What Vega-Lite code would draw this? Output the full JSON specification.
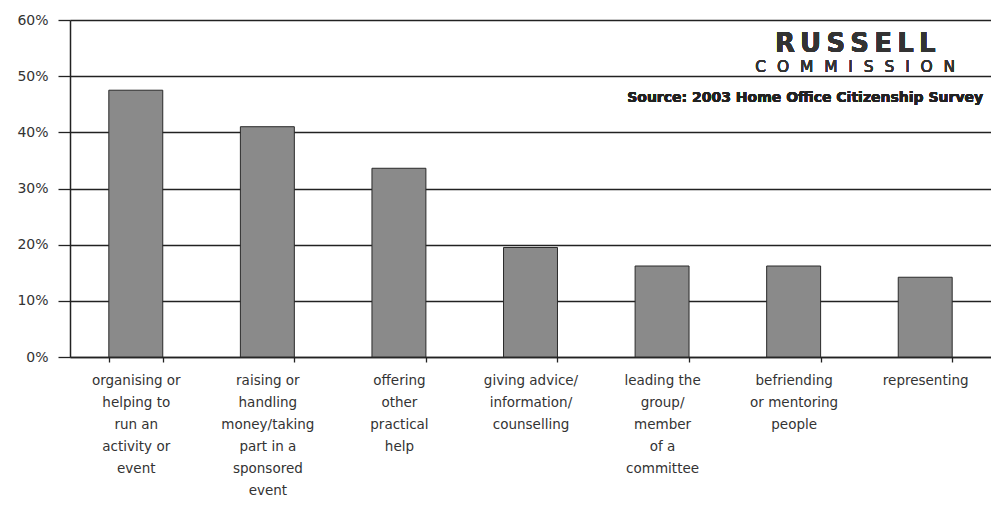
{
  "$schema": "https://vega.github.io/schema/vega-lite/v6.json",
  "width": 921,
  "height": 337,
  "autosize": {"type": "none"},
  "padding": {"left": 70, "top": 20, "right": 0, "bottom": 151},
  "background": "white",
  "data": {
    "values": [
      {"activity": "organising or|helping to|run an|activity or|event", "share": 0.475},
      {"activity": "raising or|handling|money/taking|part in a|sponsored|event", "share": 0.41},
      {"activity": "offering|other|practical|help", "share": 0.336},
      {"activity": "giving advice/|information/|counselling", "share": 0.195},
      {"activity": "leading the|group/|member|of a|committee", "share": 0.162},
      {"activity": "befriending|or mentoring|people", "share": 0.162},
      {"activity": "representing", "share": 0.142}
    ]
  },
  "config": {
    "view": {"stroke": null},
    "font": "DejaVu Sans"
  },
  "layer": [
    {
      "mark": {"type": "bar", "fill": "#8a8a8a", "stroke": "#2a2a2a", "strokeWidth": 1},
      "encoding": {
        "x": {
          "field": "activity",
          "type": "nominal",
          "sort": null,
          "scale": {"paddingInner": 0.59, "paddingOuter": 0.295},
          "axis": {
            "title": null,
            "labelAngle": 0,
            "labelExpr": "isValid(datum.value) ? split(datum.value, '|') : ''",
            "labelFont": "DejaVu Sans",
            "labelFontSize": 13.5,
            "labelLineHeight": 22,
            "labelColor": "#333",
            "labelPadding": 11,
            "labelBaseline": "top",
            "tickBand": "extent",
            "tickSize": 5,
            "tickColor": "#222",
            "tickWidth": 1.3,
            "domainColor": "#222",
            "domainWidth": 1.5,
            "grid": false
          }
        },
        "y": {
          "field": "share",
          "type": "quantitative",
          "scale": {"domain": [0, 0.6], "nice": false},
          "axis": {
            "title": null,
            "format": ".0%",
            "values": [0, 0.1, 0.2, 0.3, 0.4, 0.5, 0.6],
            "labelFont": "DejaVu Sans",
            "labelFontSize": 14,
            "labelColor": "#333",
            "labelPadding": 10,
            "tickSize": 12,
            "tickColor": "#222",
            "tickWidth": 1.3,
            "domainColor": "#222",
            "domainWidth": 1.5,
            "grid": true,
            "gridColor": "#222",
            "gridWidth": 1.3,
            "gridOpacity": 1
          }
        }
      }
    },
    {
      "mark": {"type": "text", "font": "DejaVu Sans", "fontWeight": "bold", "fontSize": 26, "align": "center", "baseline": "alphabetic", "dx": -70, "fill": "#333", "strokeWidth": 0},
      "encoding": {
        "x": {"datum": "representing", "type": "nominal"},
        "y": {"datum": 0.543, "type": "quantitative"},
        "text": {"value": "R\u2009U\u2009S\u2009S\u2009E\u2009L\u2009L"}
      }
    },
    {
      "mark": {"type": "text", "font": "DejaVu Sans", "fontSize": 15.5, "align": "center", "baseline": "alphabetic", "dx": -70, "fill": "#333", "strokeWidth": 0},
      "encoding": {
        "x": {"datum": "representing", "type": "nominal"},
        "y": {"datum": 0.507, "type": "quantitative"},
        "text": {"value": "C\u2002\u2009O\u2002\u2009M\u2002\u2009M\u2002\u2009I\u2002\u2009S\u2002\u2009S\u2002\u2009I\u2002\u2009O\u2002\u2009N"}
      }
    },
    {
      "mark": {"type": "text", "font": "DejaVu Sans", "fontWeight": "bold", "fontSize": 14, "align": "right", "baseline": "middle", "dx": 58, "fill": "#222", "strokeWidth": 0},
      "encoding": {
        "x": {"datum": "representing", "type": "nominal"},
        "y": {"datum": 0.461, "type": "quantitative"},
        "text": {"value": "Source: 2003 Home Office Citizenship Survey"}
      }
    }
  ]
}
